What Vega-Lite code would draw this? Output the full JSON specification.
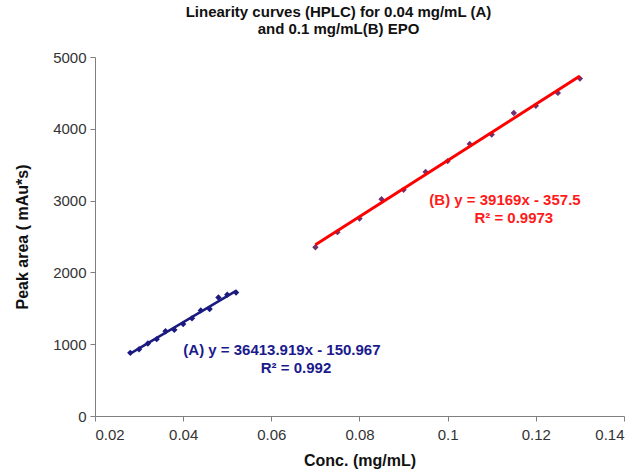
{
  "$schema": "https://vega.github.io/schema/vega-lite/v6.json",
  "width": 529,
  "height": 359,
  "autosize": {"type": "none"},
  "padding": {"left": 95, "top": 57, "right": 14, "bottom": 55},
  "background": "white",
  "title": {
    "text": ["Linearity curves (HPLC) for 0.04 mg/mL (A)", "and 0.1 mg/mL(B) EPO"],
    "font": "Liberation Sans",
    "fontSize": 15,
    "fontWeight": "bold",
    "color": "#111111",
    "anchor": "middle",
    "dx": -21,
    "offset": 13,
    "lineHeight": 17
  },
  "config": {
    "view": {"stroke": null},
    "axis": {
      "grid": false,
      "domainColor": "#7f7f7f",
      "tickColor": "#7f7f7f",
      "labelFont": "Liberation Sans",
      "labelFontSize": 15,
      "labelColor": "#333333",
      "labelOverlap": false,
      "titleFont": "Liberation Sans",
      "titleFontSize": 16,
      "titleFontWeight": "bold",
      "titleColor": "#111111",
      "tickSize": 5
    }
  },
  "datasets": {
    "points": [
      {"series": "A", "conc": 0.028, "area": 880},
      {"series": "A", "conc": 0.030, "area": 930},
      {"series": "A", "conc": 0.032, "area": 1010},
      {"series": "A", "conc": 0.034, "area": 1070},
      {"series": "A", "conc": 0.036, "area": 1180},
      {"series": "A", "conc": 0.038, "area": 1200},
      {"series": "A", "conc": 0.040, "area": 1280},
      {"series": "A", "conc": 0.042, "area": 1360},
      {"series": "A", "conc": 0.044, "area": 1470},
      {"series": "A", "conc": 0.046, "area": 1490},
      {"series": "A", "conc": 0.048, "area": 1650},
      {"series": "A", "conc": 0.050, "area": 1690},
      {"series": "A", "conc": 0.052, "area": 1720},
      {"series": "B", "conc": 0.070, "area": 2350},
      {"series": "B", "conc": 0.075, "area": 2560},
      {"series": "B", "conc": 0.080, "area": 2750},
      {"series": "B", "conc": 0.085, "area": 3020},
      {"series": "B", "conc": 0.090, "area": 3150},
      {"series": "B", "conc": 0.095, "area": 3400},
      {"series": "B", "conc": 0.100, "area": 3550},
      {"series": "B", "conc": 0.105, "area": 3790},
      {"series": "B", "conc": 0.110, "area": 3920},
      {"series": "B", "conc": 0.115, "area": 4220},
      {"series": "B", "conc": 0.120, "area": 4320},
      {"series": "B", "conc": 0.125, "area": 4500},
      {"series": "B", "conc": 0.130, "area": 4700}
    ],
    "fits": [
      {"series": "A", "conc": 0.028, "area": 868.6},
      {"series": "A", "conc": 0.052, "area": 1742.6},
      {"series": "B", "conc": 0.070, "area": 2384.3},
      {"series": "B", "conc": 0.130, "area": 4734.5}
    ]
  },
  "layer": [
    {
      "data": {"name": "points"},
      "transform": [{"filter": "datum.series === 'A'"}],
      "mark": {"type": "point", "shape": "diamond", "filled": true, "size": 40, "color": "#1a1a80", "opacity": 1},
      "encoding": {
        "x": {"field": "conc", "type": "quantitative", "scale": {"domain": [0.02, 0.14], "nice": false},
          "axis": {"values": [0.02, 0.04, 0.06, 0.08, 0.1, 0.12, 0.14], "format": ".2~f", "title": "Conc. (mg/mL)", "labelPadding": 6, "titlePadding": 10}},
        "y": {"field": "area", "type": "quantitative", "scale": {"domain": [0, 5000], "nice": false},
          "axis": {"values": [0, 500, 1000, 1500, 2000, 2500, 3000, 3500, 4000, 4500, 5000], "format": "d", "title": "Peak area ( mAu*s)", "labelPadding": 4, "titlePadding": 22}}
      }
    },
    {
      "data": {"name": "fits"},
      "transform": [{"filter": "datum.series === 'A'"}],
      "mark": {"type": "line", "color": "#1a1a80", "strokeWidth": 2.5},
      "encoding": {
        "x": {"field": "conc", "type": "quantitative"},
        "y": {"field": "area", "type": "quantitative"}
      }
    },
    {
      "data": {"name": "points"},
      "transform": [{"filter": "datum.series === 'B'"}],
      "mark": {"type": "point", "shape": "diamond", "filled": true, "size": 40, "color": "#6e3270", "opacity": 1},
      "encoding": {
        "x": {"field": "conc", "type": "quantitative"},
        "y": {"field": "area", "type": "quantitative"}
      }
    },
    {
      "data": {"name": "fits"},
      "transform": [{"filter": "datum.series === 'B'"}],
      "mark": {"type": "line", "color": "#ff0000", "strokeWidth": 3},
      "encoding": {
        "x": {"field": "conc", "type": "quantitative"},
        "y": {"field": "area", "type": "quantitative"}
      }
    },
    {
      "data": {"values": [{"label": "(A) y = 36413.919x - 150.967"}]},
      "mark": {"type": "text", "font": "Liberation Sans", "fontSize": 15, "fontWeight": "bold", "color": "#1a1a8c", "align": "center", "baseline": "middle"},
      "encoding": {
        "x": {"datum": 0.0624, "type": "quantitative"},
        "y": {"datum": 919, "type": "quantitative"},
        "text": {"field": "label"}
      }
    },
    {
      "data": {"values": [{"label": "R² = 0.992"}]},
      "mark": {"type": "text", "font": "Liberation Sans", "fontSize": 15, "fontWeight": "bold", "color": "#1a1a8c", "align": "center", "baseline": "middle"},
      "encoding": {
        "x": {"datum": 0.0656, "type": "quantitative"},
        "y": {"datum": 668, "type": "quantitative"},
        "text": {"field": "label"}
      }
    },
    {
      "data": {"values": [{"label": "(B) y = 39169x - 357.5"}]},
      "mark": {"type": "text", "font": "Liberation Sans", "fontSize": 15, "fontWeight": "bold", "color": "#ff1a1a", "align": "center", "baseline": "middle"},
      "encoding": {
        "x": {"datum": 0.113, "type": "quantitative"},
        "y": {"datum": 3008, "type": "quantitative"},
        "text": {"field": "label"}
      }
    },
    {
      "data": {"values": [{"label": "R² = 0.9973"}]},
      "mark": {"type": "text", "font": "Liberation Sans", "fontSize": 15, "fontWeight": "bold", "color": "#ff1a1a", "align": "center", "baseline": "middle"},
      "encoding": {
        "x": {"datum": 0.115, "type": "quantitative"},
        "y": {"datum": 2758, "type": "quantitative"},
        "text": {"field": "label"}
      }
    }
  ]
}
